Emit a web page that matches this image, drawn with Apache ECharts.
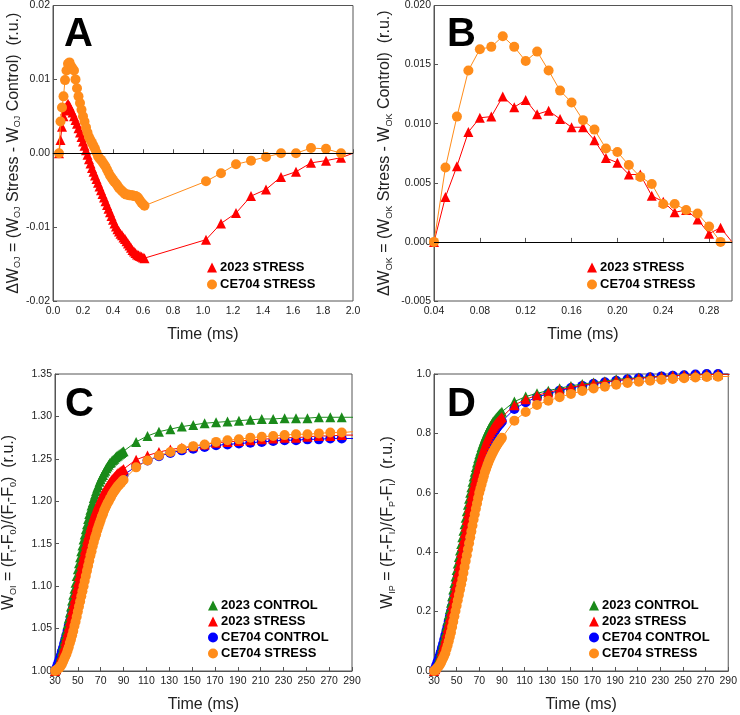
<!DOCTYPE html>
<html><head><meta charset="utf-8">
<script src="https://cdn.jsdelivr.net/npm/echarts@6/dist/echarts.min.js"></script>
<style>html,body{margin:0;padding:0;background:#fff}#c{width:740px;height:715px}</style>
</head><body><div id="c"></div>
<script>
// ---------- Panel A data ----------
const aTime = [0.04,0.05,0.06,0.07,0.08,0.09,0.10,0.11,0.12,0.13,0.14,0.15,0.16,0.17,0.18,0.19,0.20,0.21,0.22,0.23,0.24,0.25,0.26,0.27,0.28,0.29,0.30,0.31,0.32,0.33,0.34,0.35,0.36,0.37,0.38,0.39,0.40,0.41,0.42,0.43,0.44,0.45,0.46,0.47,0.48,0.49,0.50,0.51,0.52,0.53,0.54,0.55,0.56,0.57,0.58,0.59,0.60,0.61,1.02,1.12,1.22,1.32,1.42,1.52,1.62,1.72,1.82,1.92,2.00];
const aStress2023 = [0,0.0018,0.0036,0.0050,0.0058,0.0064,0.0067,0.0064,0.0059,0.0055,0.0050,0.0045,0.0040,0.0034,0.0028,0.0022,0.0016,0.0010,0.0004,-0.0002,-0.0008,-0.0014,-0.0020,-0.0025,-0.0030,-0.0035,-0.0040,-0.0045,-0.0050,-0.0055,-0.0060,-0.0065,-0.0070,-0.0075,-0.0080,-0.0085,-0.0090,-0.0095,-0.0099,-0.0103,-0.0106,-0.0109,-0.0111,-0.0114,-0.0116,-0.0119,-0.0122,-0.0125,-0.0128,-0.0131,-0.0133,-0.0135,-0.0137,-0.0138,-0.0139,-0.0140,-0.0141,-0.0142,-0.0117,-0.0095,-0.0081,-0.0058,-0.0049,-0.0032,-0.0025,-0.0013,-0.0010,-0.0006,0];
const aStressCE704 = [0,0.0043,0.0062,0.0077,0.0099,0.0112,0.0121,0.0123,0.0118,0.0115,0.0112,0.0100,0.0088,0.0077,0.0068,0.0059,0.0050,0.0043,0.0035,0.0028,0.0022,0.0018,0.0014,0.0010,0.0006,0.0001,-0.0004,-0.0007,-0.0009,-0.0012,-0.0015,-0.0018,-0.0022,-0.0026,-0.0030,-0.0033,-0.0036,-0.0039,-0.0041,-0.0044,-0.0047,-0.0049,-0.0051,-0.0053,-0.0055,-0.0056,-0.0056,-0.0057,-0.0057,-0.0057,-0.0058,-0.0058,-0.0059,-0.0061,-0.0064,-0.0067,-0.0069,-0.0071,-0.0038,-0.0027,-0.0015,-0.0010,-0.0005,0.0000,0.0000,0.0007,0.0006,0.0000,0];
const aXTicks = [0,0.2,0.4,0.6,0.8,1.0,1.2,1.4,1.6,1.8,2.0];
const aYTicks = [-0.02,-0.01,0,0.01,0.02];

// ---------- Panel B data ----------
const bTime = [0.04,0.05,0.06,0.07,0.08,0.09,0.10,0.11,0.12,0.13,0.14,0.15,0.16,0.17,0.18,0.19,0.20,0.21,0.22,0.23,0.24,0.25,0.26,0.27,0.28,0.29,0.30];
const bStress2023 = [0,0.0038,0.0064,0.0093,0.0105,0.0106,0.0123,0.0114,0.0120,0.0108,0.0111,0.0104,0.0097,0.0097,0.0086,0.0071,0.0067,0.0057,0.0057,0.0039,0.0034,0.0025,0.0027,0.0019,0.0007,0.0012,0];
const bStressCE704 = [0,0.0063,0.0106,0.0145,0.0163,0.0165,0.0174,0.0165,0.0153,0.0161,0.0145,0.0128,0.0118,0.0103,0.0095,0.0079,0.0076,0.0065,0.0055,0.0049,0.0032,0.0032,0.0027,0.0024,0.0013,0.0000,0];
const bXTicks = [0.04,0.08,0.12,0.16,0.20,0.24,0.28];
const bYTicks = [-0.005,0,0.005,0.010,0.015,0.020];

// ---------- Panels C & D time ----------
const cdTime = [30,31,32,33,34,35,36,37,38,39,40,41,42,43,44,45,46,47,48,49,50,51,52,53,54,55,56,57,58,59,60,61,62,63,64,65,66,67,68,69,70,71,72,73,74,75,76,77,78,79,80,81,82,83,84,85,86,87,88,89,90,101,111,121,131,141,151,161,171,181,191,201,211,221,231,241,251,261,271,281,291];

// ---------- Panel C data ----------
const cControl2023 = [1.000,1.002,1.005,1.009,1.013,1.018,1.024,1.030,1.036,1.042,1.048,1.055,1.062,1.069,1.076,1.083,1.090,1.097,1.104,1.112,1.120,1.127,1.134,1.141,1.148,1.155,1.161,1.167,1.173,1.179,1.185,1.190,1.195,1.199,1.204,1.208,1.212,1.216,1.219,1.223,1.226,1.229,1.231,1.234,1.236,1.239,1.241,1.243,1.245,1.246,1.248,1.249,1.250,1.252,1.253,1.254,1.255,1.256,1.257,1.258,1.259,
  1.270,1.277,1.282,1.285,1.288,1.290,1.292,1.293,1.294,1.295,1.296,1.297,1.297,1.298,1.298,1.298,1.299,1.299,1.299,1.299];
const cStress2023 = [1.000,1.002,1.005,1.008,1.011,1.015,1.019,1.024,1.029,1.035,1.040,1.046,1.052,1.059,1.065,1.072,1.079,1.085,1.092,1.098,1.105,1.112,1.118,1.125,1.131,1.137,1.143,1.149,1.155,1.160,1.165,1.170,1.174,1.179,1.183,1.187,1.190,1.194,1.197,1.200,1.203,1.206,1.209,1.211,1.214,1.216,1.218,1.220,1.222,1.224,1.226,1.227,1.229,1.230,1.232,1.233,1.234,1.235,1.236,1.237,1.238,
  1.249,1.254,1.258,1.261,1.263,1.265,1.267,1.269,1.270,1.271,1.272,1.273,1.274,1.275,1.275,1.276,1.277,1.277,1.278,1.278];
const cControlCE704 = [1.000,1.003,1.006,1.010,1.014,1.018,1.023,1.027,1.032,1.037,1.042,1.047,1.053,1.058,1.064,1.070,1.076,1.082,1.088,1.094,1.100,1.106,1.112,1.118,1.124,1.130,1.136,1.141,1.147,1.152,1.157,1.162,1.166,1.171,1.175,1.179,1.183,1.186,1.190,1.193,1.196,1.199,1.202,1.204,1.207,1.209,1.211,1.213,1.215,1.217,1.219,1.220,1.222,1.223,1.225,1.226,1.227,1.228,1.229,1.230,1.231,
  1.241,1.248,1.253,1.257,1.260,1.262,1.264,1.266,1.267,1.268,1.269,1.270,1.271,1.272,1.272,1.273,1.273,1.274,1.274,1.274];
const cStressCE704 = [1.000,1.001,1.002,1.003,1.004,1.006,1.008,1.011,1.014,1.017,1.020,1.024,1.028,1.033,1.037,1.042,1.047,1.053,1.058,1.064,1.070,1.076,1.082,1.088,1.094,1.100,1.106,1.112,1.118,1.124,1.130,1.136,1.141,1.147,1.152,1.157,1.161,1.166,1.170,1.174,1.178,1.182,1.185,1.189,1.192,1.195,1.198,1.200,1.203,1.205,1.208,1.210,1.212,1.214,1.216,1.218,1.219,1.221,1.222,1.224,1.225,
  1.240,1.248,1.254,1.258,1.262,1.265,1.267,1.270,1.272,1.273,1.275,1.276,1.277,1.278,1.279,1.279,1.280,1.281,1.281,1.282];
const cdXTicks = [30,50,70,90,110,130,150,170,190,210,230,250,270,290];
const cYTicks = [1.00,1.05,1.10,1.15,1.20,1.25,1.30,1.35];

// ---------- Panel D data ----------
const dControl2023 = [0.000,0.008,0.017,0.027,0.038,0.050,0.065,0.080,0.096,0.113,0.130,0.149,0.169,0.189,0.209,0.230,0.252,0.274,0.296,0.318,0.340,0.362,0.384,0.406,0.428,0.450,0.472,0.494,0.516,0.538,0.560,0.580,0.600,0.619,0.637,0.655,0.671,0.687,0.702,0.716,0.730,0.742,0.754,0.765,0.775,0.785,0.794,0.803,0.811,0.819,0.826,0.832,0.838,0.843,0.848,0.853,0.857,0.861,0.865,0.869,0.873,
  0.907,0.924,0.935,0.944,0.952,0.960,0.966,0.971,0.976,0.982,0.985,0.988,0.991,0.993,0.995,0.997,0.997,0.999,0.999,0.999];
const dStress2023 = [0.000,0.006,0.013,0.021,0.030,0.040,0.053,0.067,0.081,0.095,0.110,0.127,0.145,0.163,0.181,0.200,0.222,0.244,0.266,0.288,0.310,0.332,0.354,0.376,0.398,0.420,0.442,0.464,0.486,0.508,0.530,0.550,0.569,0.588,0.607,0.625,0.641,0.657,0.672,0.686,0.700,0.713,0.726,0.738,0.749,0.760,0.770,0.780,0.789,0.797,0.805,0.812,0.818,0.824,0.830,0.835,0.839,0.843,0.847,0.851,0.855,
  0.895,0.915,0.928,0.938,0.947,0.955,0.962,0.968,0.973,0.978,0.982,0.986,0.989,0.992,0.994,0.996,0.997,0.998,0.999,0.999];
const dControlCE704 = [0.000,0.009,0.019,0.029,0.039,0.050,0.063,0.077,0.091,0.105,0.120,0.135,0.151,0.167,0.183,0.200,0.218,0.237,0.256,0.275,0.295,0.316,0.337,0.358,0.379,0.400,0.421,0.442,0.463,0.484,0.505,0.525,0.544,0.563,0.582,0.600,0.617,0.634,0.650,0.665,0.680,0.693,0.706,0.718,0.729,0.740,0.750,0.760,0.769,0.777,0.785,0.792,0.799,0.805,0.811,0.817,0.822,0.827,0.831,0.836,0.840,
  0.882,0.905,0.922,0.934,0.944,0.953,0.960,0.967,0.972,0.977,0.982,0.986,0.989,0.992,0.994,0.996,0.998,1.000,1.000,1.000];
const dStressCE704 = [0.000,0.003,0.007,0.011,0.015,0.020,0.027,0.035,0.043,0.051,0.060,0.073,0.086,0.100,0.115,0.130,0.148,0.166,0.184,0.202,0.220,0.238,0.256,0.274,0.292,0.310,0.330,0.350,0.370,0.390,0.410,0.430,0.450,0.470,0.490,0.510,0.528,0.546,0.564,0.582,0.600,0.614,0.628,0.642,0.656,0.670,0.680,0.691,0.701,0.711,0.720,0.728,0.736,0.743,0.750,0.757,0.763,0.769,0.774,0.780,0.785,
  0.843,0.872,0.896,0.910,0.922,0.933,0.943,0.951,0.957,0.964,0.970,0.974,0.977,0.981,0.983,0.986,0.988,0.990,0.991,0.992];
const dYTicks = [0,0.2,0.4,0.6,0.8,1.0];

// ---------- styling ----------
const FONT = '"Liberation Sans", Arial, sans-serif';
const RED = '#ff0000', ORANGE = '#ff8c1a', GREEN = '#1a8a1a', BLUE = '#0000ff';
const FRAME = '#555';

function pairs(xs, ys, hideLast) {
  return xs.map((x, i) => {
    if (hideLast && i === xs.length - 1) return { value: [x, ys[i]], symbol: 'none' };
    return [x, ys[i]];
  });
}

const grids = [
  { left: 53, top: 4, width: 300, height: 297 },
  { left: 434, top: 4, width: 298, height: 297 },
  { left: 54, top: 374, width: 298, height: 297 },
  { left: 434, top: 374, width: 298, height: 297 }
].map(g => Object.assign({ show: true, borderColor: FRAME, borderWidth: 1, containLabel: false }, g));

function xAxis(gi, min, max, interval, ticks, dec) {
  return {
    type: 'value', gridIndex: gi, min, max, interval,
    name: 'Time (ms)', nameLocation: 'middle', nameGap: 26,
    nameTextStyle: { fontFamily: FONT, fontSize: 16, color: '#222' },
    axisLine: { show: true, lineStyle: { color: FRAME, width: 1 } },
    axisTick: { show: true, inside: true, length: 4, customValues: ticks, lineStyle: { color: FRAME } },
    axisLabel: { show: true, customValues: ticks, margin: 5, fontFamily: FONT, fontSize: 10.5, color: '#222',
      formatter: v => Number(v).toFixed(dec) },
    splitLine: { show: false }
  };
}
function yAxis(gi, min, max, interval, ticks, dec, name, gap) {
  return {
    type: 'value', gridIndex: gi, min, max, interval,
    name, nameLocation: 'middle', nameGap: gap,
    nameTextStyle: {
      fontFamily: FONT, color: '#222',
      rich: {
        m: { fontFamily: FONT, fontSize: 16, color: '#222', lineHeight: 18 },
        s: { fontFamily: FONT, fontSize: 9, color: '#222', lineHeight: 18, verticalAlign: 'bottom' }
      }
    },
    axisLine: { show: true, lineStyle: { color: FRAME, width: 1 } },
    axisTick: { show: true, inside: true, length: 4, customValues: ticks, lineStyle: { color: FRAME } },
    axisLabel: { show: true, customValues: ticks, margin: 3, fontFamily: FONT, fontSize: 10.5, color: '#222',
      formatter: v => Number(v).toFixed(dec) },
    splitLine: { show: false }
  };
}

function series(name, gi, data, color, symbol, z, extra) {
  return Object.assign({
    type: 'line', name, xAxisIndex: gi, yAxisIndex: gi, data,
    symbol, symbolSize: 10, showSymbol: true, clip: true, z,
    itemStyle: { color, borderWidth: 0 },
    lineStyle: { color, width: 1 },
    emphasis: { disabled: true }, animation: false
  }, extra || {});
}
const zeroLine = { markLine: { silent: true, symbol: ['none', 'none'], label: { show: false },
  lineStyle: { color: '#000', type: 'solid', width: 1 }, data: [{ yAxis: 0 }], animation: false } };

function legend(left, top, names, gap) {
  return {
    left, top, orient: 'vertical', padding: 0, itemGap: gap, itemWidth: 10, itemHeight: 10,
    selectedMode: false,
    textStyle: { fontFamily: FONT, fontSize: 13, fontWeight: 'bold', color: '#000', padding: [0, 0, 0, -2] },
    data: names.map(n => ({ name: n, icon: n.indexOf('2023') === 0 ? 'triangle' : 'circle' }))
  };
}

const option = {
  animation: false,
  backgroundColor: '#fff',
  grid: grids,
  xAxis: [
    xAxis(0, 0, 2, 0.2, aXTicks, 1),
    xAxis(1, 0.04, 0.30, 0.04, bXTicks, 2),
    xAxis(2, 30, 290, 20, cdXTicks, 0),
    xAxis(3, 30, 290, 20, cdXTicks, 0)
  ],
  yAxis: [
    yAxis(0, -0.02, 0.02, 0.01, aYTicks, 2, '{m|ΔW}{s|OJ}{m| = (W}{s|OJ}{m| Stress - W}{s|OJ}{m| Control)  (r.u.)}', 28),
    yAxis(1, -0.005, 0.020, 0.005, bYTicks, 3, '{m|ΔW}{s|OK}{m| = (W}{s|OK}{m| Stress - W}{s|OK}{m| Control)  (r.u.)}', 40),
    yAxis(2, 1.00, 1.35, 0.05, cYTicks, 2, '{m|W}{s|OI}{m| = (F}{s|t}{m|-F}{s|0}{m|)/(F}{s|I}{m|-F}{s|0}{m|)  (r.u.)}', 37),
    yAxis(3, 0, 1.0, 0.2, dYTicks, 1, '{m|W}{s|IP}{m| = (F}{s|t}{m|-F}{s|I}{m|)/(F}{s|P}{m|-F}{s|I}{m|)  (r.u.)}', 37)
  ],
  legend: [
    legend(207, 261, ['2023 STRESS', 'CE704 STRESS'], 4),
    legend(587, 261, ['2023 STRESS', 'CE704 STRESS'], 4),
    legend(208, 599, ['2023 CONTROL', '2023 STRESS', 'CE704 CONTROL', 'CE704 STRESS'], 3),
    legend(589, 599, ['2023 CONTROL', '2023 STRESS', 'CE704 CONTROL', 'CE704 STRESS'], 3)
  ],
  series: [
    series('2023 STRESS', 0, pairs(aTime, aStress2023, true), RED, 'triangle', 3, zeroLine),
    series('CE704 STRESS', 0, pairs(aTime, aStressCE704, true), ORANGE, 'circle', 4),
    series('2023 STRESS', 1, pairs(bTime, bStress2023, true), RED, 'triangle', 3, zeroLine),
    series('CE704 STRESS', 1, pairs(bTime, bStressCE704, true), ORANGE, 'circle', 4),
    series('2023 CONTROL', 2, pairs(cdTime, cControl2023), GREEN, 'triangle', 3),
    series('2023 STRESS', 2, pairs(cdTime, cStress2023), RED, 'triangle', 4),
    series('CE704 CONTROL', 2, pairs(cdTime, cControlCE704), BLUE, 'circle', 2),
    series('CE704 STRESS', 2, pairs(cdTime, cStressCE704), ORANGE, 'circle', 5),
    series('2023 CONTROL', 3, pairs(cdTime, dControl2023), GREEN, 'triangle', 3),
    series('2023 STRESS', 3, pairs(cdTime, dStress2023), RED, 'triangle', 4),
    series('CE704 CONTROL', 3, pairs(cdTime, dControlCE704), BLUE, 'circle', 2),
    series('CE704 STRESS', 3, pairs(cdTime, dStressCE704), ORANGE, 'circle', 5)
  ],
  graphic: [
    { type: 'text', left: 64, top: 15, style: { text: 'A', font: 'bold 40px ' + FONT, fill: '#000' } },
    { type: 'text', left: 447, top: 15, style: { text: 'B', font: 'bold 40px ' + FONT, fill: '#000' } },
    { type: 'text', left: 65, top: 385, style: { text: 'C', font: 'bold 40px ' + FONT, fill: '#000' } },
    { type: 'text', left: 447, top: 385, style: { text: 'D', font: 'bold 40px ' + FONT, fill: '#000' } }
  ]
};

const chart = echarts.init(document.getElementById('c'), null, { renderer: 'canvas' });
chart.setOption(option);
</script>
</body></html>
